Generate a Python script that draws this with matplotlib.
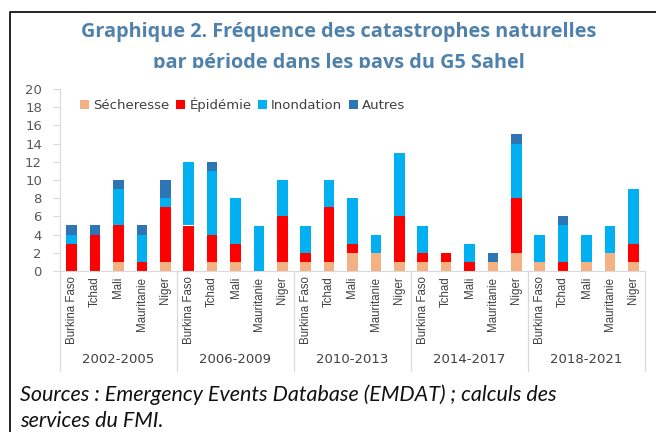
import matplotlib
matplotlib.use("Agg")
import matplotlib.pyplot as plt
from matplotlib.lines import Line2D
from matplotlib.transforms import Bbox, TransformedBbox
import numpy as np

periods = ["2002-2005", "2006-2009", "2010-2013", "2014-2017", "2018-2021"]
countries = ["Burkina Faso", "Tchad", "Mali", "Mauritanie", "Niger"]

secheresse = [0, 0, 1, 0, 1,
              0, 1, 1, 0, 1,
              1, 1, 2, 2, 1,
              1, 1, 0, 1, 2,
              1, 0, 1, 2, 1]
epidemie = [3, 4, 4, 1, 6,
            5, 3, 2, 0, 5,
            1, 6, 1, 0, 5,
            1, 1, 1, 0, 6,
            0, 1, 0, 0, 2]
inondation = [1, 0, 4, 3, 1,
              7, 7, 5, 5, 4,
              3, 3, 5, 2, 7,
              3, 0, 2, 0, 6,
              3, 4, 3, 3, 6]
autres = [1, 1, 1, 1, 2,
          0, 1, 0, 0, 0,
          0, 0, 0, 0, 0,
          0, 0, 0, 1, 1,
          0, 1, 0, 0, 0]

series = [("Sécheresse", secheresse, "#F4B183"),
          ("Épidémie", epidemie, "#FF0000"),
          ("Inondation", inondation, "#00B0F0"),
          ("Autres", autres, "#2E75B6")]

W, H = 656, 432
fig = plt.figure(figsize=(W / 100, H / 100), dpi=100)
fig.patch.set_facecolor("white")

left, right, bottom, top = 60, 645, 271, 89
ax = fig.add_axes([left / W, 1 - bottom / H, (right - left) / W, (bottom - top) / H])

n = len(periods) * len(countries)
x = np.arange(n)
base = np.zeros(n)
handles = []
for name, vals, col in series:
    v = np.array(vals, dtype=float)
    b = ax.bar(x, v, bottom=base, width=0.45, color=col, label=name, linewidth=0)
    base += v
    handles.append(b)

ax.set_xlim(-0.5, n - 0.5)
ax.set_ylim(0, 20)
ax.set_yticks(range(0, 21, 2))
ax.tick_params(axis="y", colors="#D9D9D9", labelcolor="#595959", labelsize=9.5,
               length=5, width=0.8, pad=8)
for s in ["top", "right"]:
    ax.spines[s].set_visible(False)
ax.spines["left"].set_color("#D9D9D9")
ax.spines["bottom"].set_color("#D9D9D9")
for lab in ax.get_yticklabels():
    lab.set_fontfamily("DejaVu Sans")

ax.set_xticks(x)
ax.set_xticklabels(countries * len(periods), rotation=90, fontsize=8.3,
                   color="#404040", fontfamily="Liberation Sans")
ax.tick_params(axis="x", length=0, pad=4)

# group separators and group labels
trans = ax.get_xaxis_transform()
for k in range(len(periods) + 1):
    xs = k * len(countries) - 0.5
    ax.add_line(Line2D([xs, xs], [0, -0.55], transform=trans, color="#D9D9D9",
                       lw=0.9, clip_on=False))
for k, p in enumerate(periods):
    xc = k * len(countries) + (len(countries) - 1) / 2
    ax.text(xc, -0.485, p, transform=trans, ha="center", va="center",
            fontsize=9.5, color="#404040", fontfamily="DejaVu Sans")

leg = ax.legend(handles=handles, loc="upper left", bbox_to_anchor=(0.014, 1.018),
                ncol=4, frameon=False, fontsize=9.5, handlelength=0.7,
                handleheight=0.7, handletextpad=0.3, columnspacing=0.5)
for t in leg.get_texts():
    t.set_color("#404040")

# title
fig.text(339 / W, 1 - 32 / H, "Graphique 2. Fréquence des catastrophes naturelles",
         ha="center", va="center", fontsize=14.3, fontweight="bold",
         color="#4F81AD", fontfamily="Open Sans")
t2 = fig.text(339 / W, 1 - 63 / H, "par période dans les pays du G5 Sahel",
              ha="center", va="center", fontsize=14.3, fontweight="bold",
              color="#4F81AD", fontfamily="Open Sans")
t2.set_clip_on(True)
t2.set_clip_box(TransformedBbox(Bbox([[0, 1 - 68 / H], [1, 1]]), fig.transFigure))

# sources
fig.text(20 / W, 1 - 395 / H, "Sources : Emergency Events Database (EMDAT) ; calculs des",
         ha="left", va="center", fontsize=15.5, style="italic", color="#111111",
         fontfamily="Lato")
fig.text(20 / W, 1 - 421 / H, "services du FMI.",
         ha="left", va="center", fontsize=15.5, style="italic", color="#111111",
         fontfamily="Lato")

# outer frame
fig.add_artist(Line2D([10 / W, 10 / W, 1], [0, 1 - 12 / H, 1 - 12 / H],
                      transform=fig.transFigure, color="black", lw=1.2))

fig.savefig("out.png", dpi=100, facecolor="white")
